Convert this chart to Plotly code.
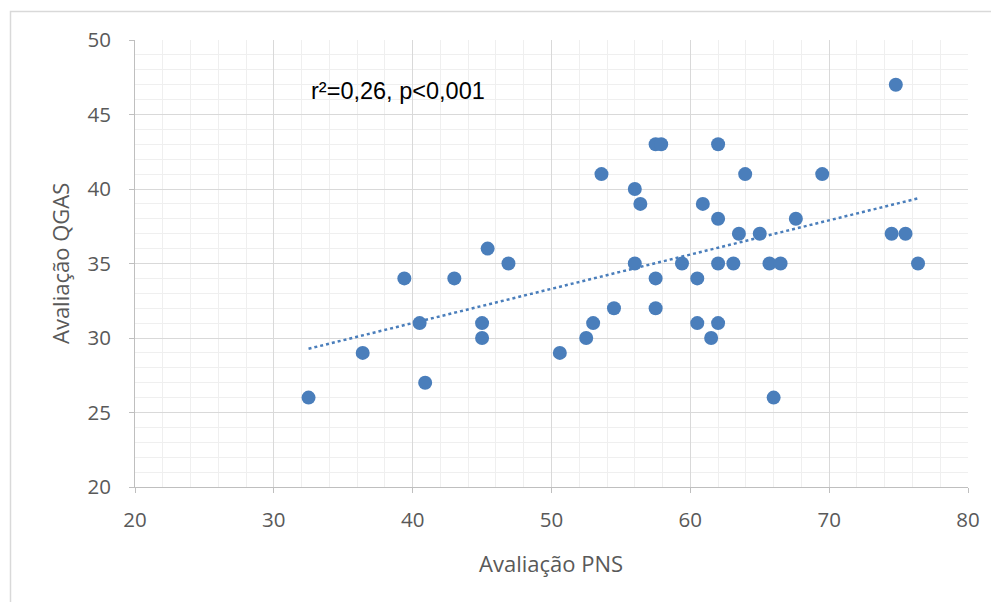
import numpy as np
import plotly.graph_objects as go

# Data
pns = [32.5, 36.4, 39.4, 40.5, 40.9, 43.0, 45.0, 45.0, 45.4, 46.9,
       50.6, 52.5, 53.0, 53.6, 54.5, 56.0, 56.0, 56.4, 57.5, 57.9,
       57.5, 57.5, 59.4, 60.5, 60.5, 60.9, 61.5, 62.0, 62.0, 62.0,
       62.0, 63.1, 63.5, 63.95, 65.0, 65.7, 66.5, 66.0, 67.6, 69.5,
       74.5, 74.8, 75.5, 76.4]
qgas = [26, 29, 34, 31, 27, 34, 31, 30, 36, 35,
        29, 30, 31, 41, 32, 40, 35, 39, 43, 43,
        34, 32, 35, 34, 31, 39, 30, 43, 38, 35,
        31, 35, 37, 41, 37, 35, 35, 26, 38, 41,
        37, 47, 37, 35]

x_ticks = [20, 30, 40, 50, 60, 70, 80]
y_ticks = [20, 25, 30, 35, 40, 45, 50]

stat_text = "r²=0,26, p<0,001"
x_title = "Avaliação PNS"
y_title = "Avaliação QGAS"

blue = "#4A7EBB"
gray_txt = "#595959"

# linear trend line (least squares)
coef = np.polyfit(pns, qgas, 1)
tx = np.array([min(pns), max(pns)])
ty = np.polyval(coef, tx)

fig = go.Figure()
fig.add_trace(go.Scatter(x=tx, y=ty, mode="lines",
                         line=dict(color=blue, width=2.5, dash="dot"),
                         hoverinfo="skip", showlegend=False))
fig.add_trace(go.Scatter(x=pns, y=qgas, mode="markers",
                         marker=dict(color=blue, size=14, line=dict(width=0)),
                         showlegend=False))

W, H = 991, 602
L, R, T, B = 135, 23, 40, 115
pw, ph = W - L - R, H - T - B

def px2paper_x(px):
    return (px - L) / pw

def px2paper_y(py):
    return (H - B - py) / ph

axis_common = dict(
    showline=True, linecolor="#BFBFBF", linewidth=1,
    ticks="outside", ticklen=5, tickcolor="#BFBFBF",
    gridcolor="#D9D9D9", gridwidth=1, zeroline=False,
    tickfont=dict(family="Open Sans", size=20.5, color=gray_txt),
    mirror=False,
)

fig.update_xaxes(range=[20, 80], tickvals=x_ticks,
                 minor=dict(dtick=2, tick0=20, showgrid=True, gridcolor="#EFEFEF", ticks=""),
                 ticklabelstandoff=9, **axis_common)
fig.update_yaxes(range=[20, 50], tickvals=y_ticks,
                 minor=dict(dtick=1, tick0=20, showgrid=True, gridcolor="#EFEFEF", ticks=""),
                 ticklabelstandoff=14, **axis_common)

fig.add_annotation(text=stat_text, xref="paper", yref="paper",
                   x=px2paper_x(309), y=px2paper_y(91), xanchor="left", yanchor="middle",
                   showarrow=False, font=dict(family="Liberation Sans", size=23.5, color="#000000"))
fig.add_annotation(text=x_title, xref="paper", yref="paper",
                   x=px2paper_x(551), y=px2paper_y(563), xanchor="center", yanchor="middle",
                   showarrow=False, font=dict(family="Open Sans", size=22, color=gray_txt))
fig.add_annotation(text=y_title, xref="paper", yref="paper", textangle=-90,
                   x=px2paper_x(60), y=px2paper_y(264), xanchor="center", yanchor="middle",
                   showarrow=False, font=dict(family="Open Sans", size=22, color=gray_txt))

# outer chart border (light gray)
fig.add_shape(type="rect", xref="paper", yref="paper",
              x0=px2paper_x(10.5), x1=px2paper_x(1010), y0=px2paper_y(620), y1=px2paper_y(11.5),
              line=dict(color="#D9D9D9", width=1.5), fillcolor="rgba(0,0,0,0)", layer="below")

fig.update_layout(width=W, height=H, margin=dict(l=L, r=R, t=T, b=B),
                  plot_bgcolor="white", paper_bgcolor="white",
                  showlegend=False)

fig.write_html("out.html", config={"displayModeBar": False},
               post_script="document.body.style.margin='0';document.body.style.overflow='hidden';")
